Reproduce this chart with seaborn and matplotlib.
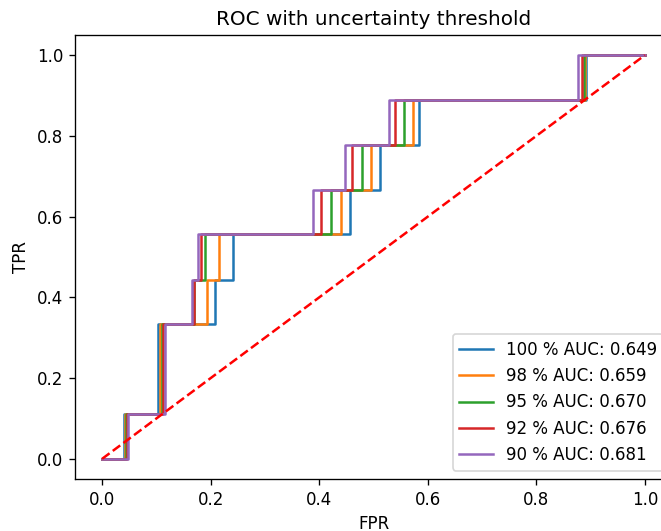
import matplotlib
matplotlib.use("Agg")
import matplotlib.pyplot as plt
import seaborn as sns
import pandas as pd

# TPR levels reached at each step of the ROC curves (9 positives)
tpr_levels = [0.0, 0.111, 0.333, 0.444, 0.556, 0.667, 0.778, 0.889, 1.0]

# FPR where each curve steps up to the next TPR level
fpr_100 = [0.040, 0.103, 0.208, 0.241, 0.457, 0.512, 0.584, 0.892]
fpr_98 = [0.042, 0.107, 0.194, 0.216, 0.440, 0.496, 0.572, 0.889]
fpr_95 = [0.044, 0.110, 0.169, 0.190, 0.422, 0.478, 0.556, 0.887]
fpr_92 = [0.045, 0.113, 0.170, 0.182, 0.403, 0.461, 0.540, 0.884]
fpr_90 = [0.047, 0.116, 0.165, 0.177, 0.389, 0.447, 0.529, 0.877]

thresholds = ["100", "98", "95", "92", "90"]
aucs = [0.649, 0.659, 0.670, 0.676, 0.681]
step_fprs = [fpr_100, fpr_98, fpr_95, fpr_92, fpr_90]

diag = [0.0, 1.0]


# Turns the step positions into ROC corner points
def roc_points(steps):
    xs, ys = [0.0], [0.0]
    for i, x in enumerate(steps):
        xs += [x, x]
        ys += [tpr_levels[i], tpr_levels[i + 1]]
    xs.append(1.0)
    ys.append(1.0)
    return xs, ys


rows = []
for thr, auc, steps in zip(thresholds, aucs, step_fprs):
    label = f"{thr} % AUC: {auc:.3f}"
    xs, ys = roc_points(steps)
    for order, (x, y) in enumerate(zip(xs, ys)):
        rows.append({"FPR": x, "TPR": y, "label": label, "order": order})
df = pd.DataFrame(rows)

fig = plt.figure(figsize=(661 / 120, 531 / 120), dpi=120)
ax = fig.add_axes([75 / 661, 52 / 531, 597 / 661, 444 / 531])

sns.lineplot(data=df, x="FPR", y="TPR", hue="label", sort=False, estimator=None,
             palette=sns.color_palette("tab10", 5), ax=ax)
ax.plot(diag, diag, "r--")

ax.set_xlim(-0.05, 1.05)
ax.set_ylim(-0.05, 1.05)
ax.set_title("ROC with uncertainty threshold")
ax.set_xlabel("FPR")
ax.set_ylabel("TPR")
sns.move_legend(ax, "lower right", title=None)

fig.savefig("out.png", dpi=120)
